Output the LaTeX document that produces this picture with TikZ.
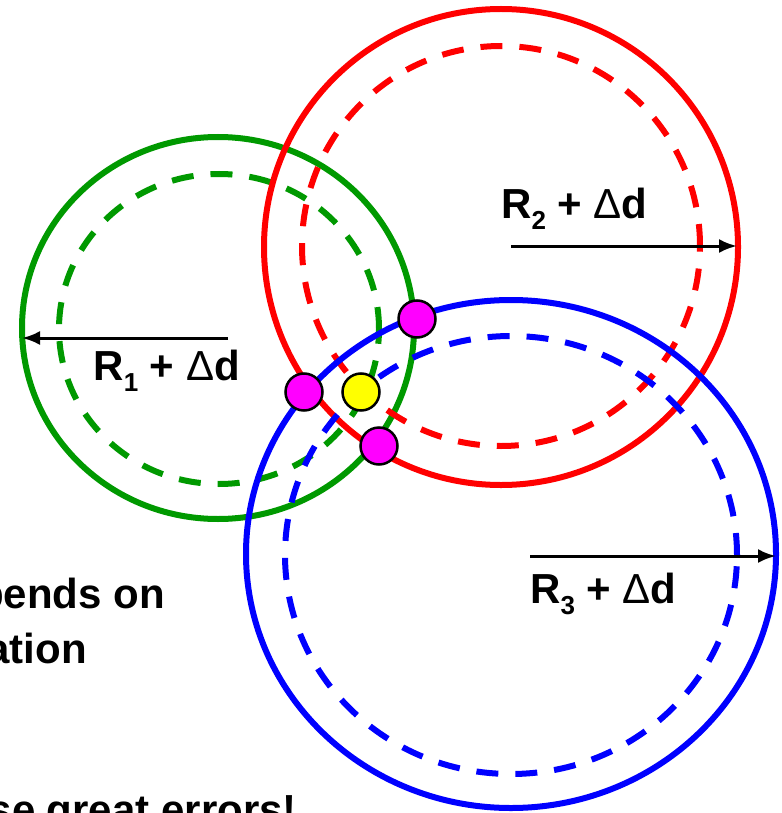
\documentclass[tikz,border=0pt]{standalone}
\usepackage{fontspec}
\setmainfont{Liberation Sans}
\usepackage{xcolor}
\usetikzlibrary{arrows.meta,positioning}

\definecolor{grn}{RGB}{0,153,0}
\definecolor{mag}{RGB}{255,0,255}
\definecolor{ylw}{RGB}{255,255,0}
\newcommand{\subidx}[1]{\raisebox{-11pt}{\fontsize{26}{26}\selectfont #1}}
\newcommand{\dlt}{{\mdseries Δ}}

\begin{document}
\begin{tikzpicture}[x=1pt, y=-1pt,
ring/.style={line width=6pt},
ringdash/.style={line width=6pt, dash pattern=on 22pt off 17pt},
fix/.style={circle, draw=black, line width=2.5pt, fill=mag, minimum size=37pt, inner sep=0pt},
est/.style={fix, fill=ylw},
lbl/.style={font=\fontsize{42}{50}\bfseries\selectfont, inner sep=0pt},
txt/.style={font=\fontsize{42}{50}\bfseries\selectfont, inner sep=0pt},
rad/.style={-{Latex[length=18pt,width=14pt]}, line width=3pt}
]
\useasboundingbox (0,0) rectangle (781,813);
\clip (0,0) rectangle (781,813);

% text cut by the frame on the left
\node[txt, anchor=base east] (t1) at (165,608) {pends on};
\node[txt, anchor=base east] (t2) at (87,663) {ation};
\node[txt, anchor=base east] (t3) at (297,824) {se great errors!};

% ranges
\draw[ringdash, grn] (219,329) ellipse [x radius=160pt, y radius=155pt];
\draw[ring, grn] (218,328) ellipse [x radius=196pt, y radius=191pt];
\draw[ringdash, red] (501,246) ellipse [x radius=199pt, y radius=200pt];
\draw[ring, red] (501,247) ellipse [x radius=237pt, y radius=238pt];
\draw[ringdash, blue] (511,555) ellipse [x radius=226pt, y radius=219pt];
\draw[ring, blue] (511,554) ellipse [x radius=265pt, y radius=254pt];

% radius arrows
\coordinate (s1) at (228,338);
\coordinate (e1) at (22,338);
\coordinate (s2) at (511,246);
\coordinate (e2) at (737,246);
\coordinate (s3) at (530,556);
\coordinate (e3) at (776,556);
\draw[rad] (s1) -- (e1);
\draw[rad] (s2) -- (e2);
\draw[rad] (s3) -- (e3);

\node[lbl, anchor=base east] (r1) at (240,380) {R\subidx{1} + \dlt d};
\node[lbl, anchor=base west] (r2) at (501,218) {R\subidx{2} + \dlt d};
\node[lbl, anchor=base west] (r3) at (530,603) {R\subidx{3} + \dlt d};

% intersections and estimate
\node[fix] (p1) at (417,319) {};
\node[fix] (p2) at (304,392) {};
\node[fix] (p3) at (379,446) {};
\node[est] (p0) at (361,392) {};
\end{tikzpicture}
\end{document}
